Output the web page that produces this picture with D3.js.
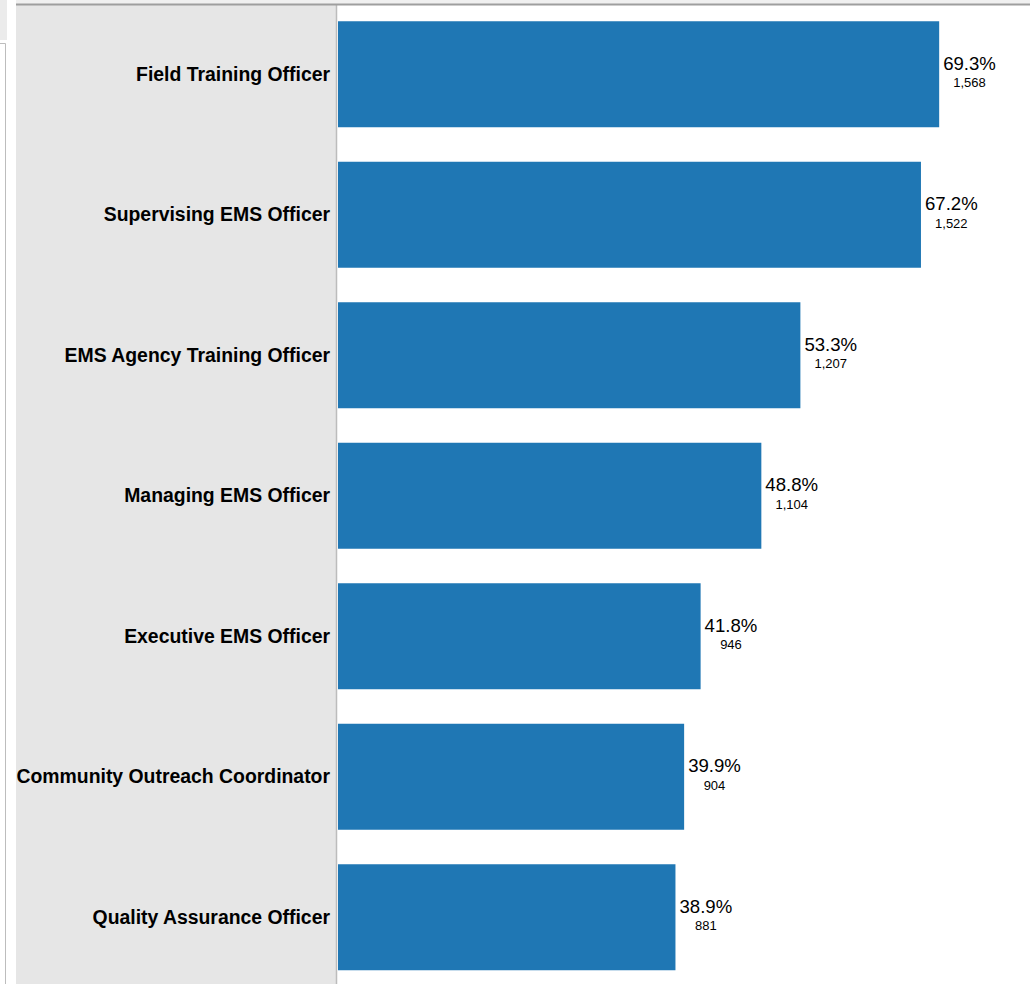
<!DOCTYPE html>
<html>
<head>
<meta charset="utf-8">
<script src="https://cdn.jsdelivr.net/npm/d3@7"></script>
<style>
  html, body { margin: 0; padding: 0; background: #fff; }
  svg { display: block; }
</style>
</head>
<body>
<svg id="chart" width="1030" height="984"></svg>
<script>
// Roles, share of respondents (%) and respondent counts
const roles = [
  "Field Training Officer",
  "Supervising EMS Officer",
  "EMS Agency Training Officer",
  "Managing EMS Officer",
  "Executive EMS Officer",
  "Community Outreach Coordinator",
  "Quality Assurance Officer"
];
const percents = [69.3, 67.2, 53.3, 48.8, 41.8, 39.9, 38.9];
const counts = [1568, 1522, 1207, 1104, 946, 904, 881];

const W = 1030, H = 984;
const headerLeft = 16, headerRight = 336;
const plotLeft = 338;
const viewTop = 4;

const svg = d3.select("#chart");

// window chrome on the left edge
svg.append("rect").attr("x", 0).attr("y", 0).attr("width", 7).attr("height", 40).attr("fill", "#ebebeb");
svg.append("path").attr("d", "M0,43.5H5.5V984").attr("fill", "none").attr("stroke", "#bdbdbd").attr("stroke-width", 1);

// strip above the view
svg.append("rect").attr("x", headerLeft).attr("y", 0).attr("width", W - headerLeft).attr("height", viewTop).attr("fill", "#f0f0f0");

// row header panel
svg.append("rect").attr("x", headerLeft).attr("y", viewTop).attr("width", headerRight - headerLeft).attr("height", H - viewTop).attr("fill", "#e6e6e6");
svg.append("line").attr("x1", headerRight + 0.5).attr("x2", headerRight + 0.5).attr("y1", viewTop).attr("y2", H)
  .attr("stroke", "#bcbcbc").attr("stroke-width", 1.5);
svg.append("line").attr("x1", headerLeft).attr("x2", W).attr("y1", viewTop + 0.5).attr("y2", viewTop + 0.5)
  .attr("stroke", "#9e9e9e").attr("stroke-width", 2);

const y = d3.scaleBand()
  .domain(roles)
  .range([viewTop, 987.5])
  .paddingInner(0.2456)
  .paddingOuter(0.1228);

const x = d3.scaleLinear()
  .domain([0, 80])
  .range([plotLeft, plotLeft + 694]);

const data = roles.map((r, i) => ({ role: r, pct: percents[i], n: counts[i] }));

// row labels
svg.append("g").selectAll("text")
  .data(data)
  .join("text")
  .attr("x", 330)
  .attr("y", d => y(d.role) + y.bandwidth() / 2 + 6.5)
  .attr("text-anchor", "end")
  .attr("font-family", "'Liberation Sans', Arial, sans-serif")
  .attr("font-weight", "bold")
  .attr("font-size", "19.4px")
  .attr("fill", "#000")
  .text(d => d.role);

// bars
svg.append("g").selectAll("rect")
  .data(data)
  .join("rect")
  .attr("x", x(0))
  .attr("y", d => y(d.role))
  .attr("width", d => x(d.pct) - x(0))
  .attr("height", y.bandwidth())
  .attr("fill", "#1f77b4");

// value labels: percentage with the count underneath
const fmt = d3.format(",");
const lab = svg.append("g").selectAll("g")
  .data(data)
  .join("g");

lab.each(function(d) {
  const g = d3.select(this);
  const cy = y(d.role) + y.bandwidth() / 2;
  const p = g.append("text")
    .attr("x", x(d.pct) + 4)
    .attr("y", cy - 4.3)
    .attr("font-family", "'Liberation Sans', Arial, sans-serif")
    .attr("font-size", "18.6px")
    .attr("fill", "#000")
    .text(d.pct.toFixed(1) + "%");
  const w = p.node().getComputedTextLength();
  g.append("text")
    .attr("x", x(d.pct) + 4 + w / 2)
    .attr("y", cy + 13.2)
    .attr("text-anchor", "middle")
    .attr("font-family", "'Liberation Sans', Arial, sans-serif")
    .attr("font-size", "13px")
    .attr("fill", "#000")
    .text(fmt(d.n));
});
</script>
</body>
</html>
